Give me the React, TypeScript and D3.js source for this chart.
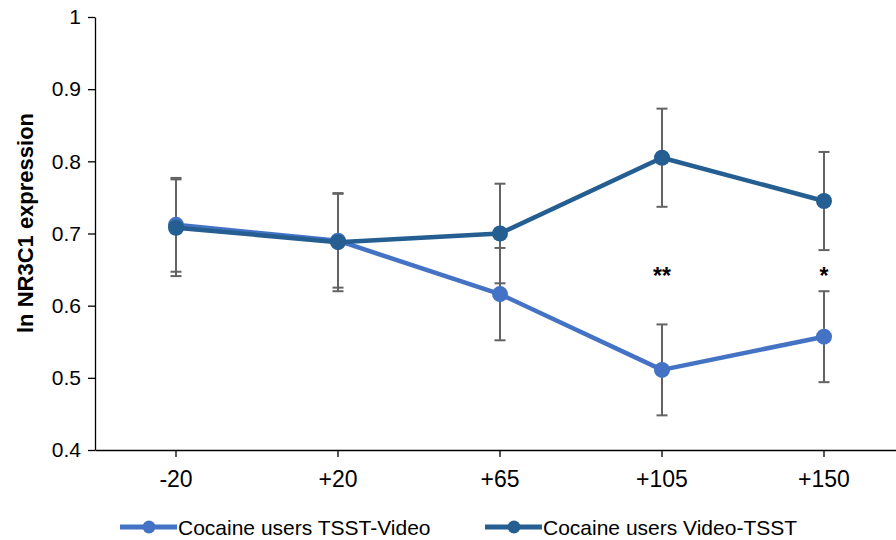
import React, { useEffect, useRef } from 'react';
import { select, scaleLinear, scaleBand, axisLeft, axisBottom, line } from 'd3';

const categories = ['-20', '+20', '+65', '+105', '+150'];
const tsstVideo = [0.712, 0.69, 0.616, 0.511, 0.557];
const tsstVideoErr = [0.065, 0.065, 0.064, 0.063, 0.063];
const videoTsst = [0.708, 0.688, 0.7, 0.805, 0.745];
const videoTsstErr = [0.067, 0.068, 0.069, 0.068, 0.068];
const yTicks = [0.4, 0.5, 0.6, 0.7, 0.8, 0.9, 1];
const stars = ['', '', '', '**', '*'];
const starLevel = 0.63;

const series = [
  { name: 'Cocaine users TSST-Video', values: tsstVideo, err: tsstVideoErr, color: '#4472c4' },
  { name: 'Cocaine users Video-TSST', values: videoTsst, err: videoTsstErr, color: '#255e91' },
];

const dims = { width: 896, height: 540, left: 95, right: 905, top: 17, bottom: 450 };
const font = 'Liberation Sans, Arial, sans-serif';

const App: React.FC = () => {
  const svgRef = useRef<SVGSVGElement | null>(null);

  useEffect(() => {
    const svg = select(svgRef.current);
    svg.selectAll('*').remove();

    const x = scaleBand().domain(categories).range([dims.left, dims.right]);
    const y = scaleLinear().domain([0.4, 1]).range([dims.bottom, dims.top]);
    const cx = (i: number) => x(categories[i])! + x.bandwidth() / 2;

    // axes
    const yAxis = svg.append('g')
      .attr('transform', `translate(${dims.left},0)`)
      .call(axisLeft(y).tickValues(yTicks).tickFormat(d => String(d)).tickSize(7).tickSizeOuter(0).tickPadding(7));
    yAxis.select('.domain').attr('stroke', '#000').attr('stroke-width', 1.3);
    yAxis.selectAll('line').attr('stroke', '#000').attr('stroke-width', 1.3);
    yAxis.selectAll('text').attr('font-family', font).attr('font-size', 21).attr('fill', '#000');

    const xAxis = svg.append('g')
      .attr('transform', `translate(0,${dims.bottom})`)
      .call(axisBottom(x).tickSize(7).tickSizeOuter(0).tickPadding(0));
    xAxis.select('.domain').attr('stroke', '#000').attr('stroke-width', 1.3);
    xAxis.selectAll('line').attr('stroke', '#000').attr('stroke-width', 1.3);
    xAxis.selectAll('text')
      .attr('y', 37)
      .attr('dy', null)
      .attr('font-family', font).attr('font-size', 23).attr('fill', '#000');

    svg.append('text')
      .attr('transform', `translate(33,223) rotate(-90)`)
      .attr('text-anchor', 'middle')
      .attr('font-family', font)
      .attr('font-weight', 'bold')
      .attr('font-size', 22)
      .text('ln NR3C1 expression');

    // error bars
    series.forEach(s => {
      const g = svg.append('g').attr('stroke', '#636363').attr('stroke-width', 2);
      s.values.forEach((v, i) => {
        const hi = y(v + s.err[i]);
        const lo = y(v - s.err[i]);
        g.append('line').attr('x1', cx(i)).attr('x2', cx(i)).attr('y1', hi).attr('y2', lo);
        g.append('line').attr('x1', cx(i) - 5.5).attr('x2', cx(i) + 5.5).attr('y1', hi).attr('y2', hi);
        g.append('line').attr('x1', cx(i) - 5.5).attr('x2', cx(i) + 5.5).attr('y1', lo).attr('y2', lo);
      });
    });

    // lines and markers
    const path = line<number>().x((_, i) => cx(i)).y(d => y(d));
    series.forEach(s => {
      svg.append('path')
        .attr('d', path(s.values)!)
        .attr('fill', 'none')
        .attr('stroke', s.color)
        .attr('stroke-width', 4.5)
        .attr('stroke-linejoin', 'round');
      svg.append('g').selectAll('circle')
        .data(s.values)
        .enter()
        .append('circle')
        .attr('cx', (_, i) => cx(i))
        .attr('cy', d => y(d))
        .attr('r', 8)
        .attr('fill', s.color);
    });

    // significance stars
    svg.append('g').selectAll('text')
      .data(stars)
      .enter()
      .append('text')
      .attr('x', (_, i) => cx(i))
      .attr('y', y(starLevel))
      .attr('text-anchor', 'middle')
      .attr('font-family', font)
      .attr('font-weight', 'bold')
      .attr('font-size', 23)
      .text(d => d);

    // legend
    const leg = svg.append('g');
    const legX = [120, 485];
    series.forEach((s, i) => {
      const lx = legX[i];
      leg.append('line')
        .attr('x1', lx).attr('x2', lx + 57).attr('y1', 527).attr('y2', 527)
        .attr('stroke', s.color).attr('stroke-width', 5);
      leg.append('circle').attr('cx', lx + 29).attr('cy', 527).attr('r', 6.5).attr('fill', s.color);
      leg.append('text')
        .attr('x', lx + 58).attr('y', 535)
        .attr('font-family', font).attr('font-size', 21)
        .text(s.name);
    });
  }, []);

  return (
    <svg
      ref={svgRef}
      width={dims.width}
      height={dims.height}
      style={{ position: 'absolute', left: 0, top: 0, background: '#fff' }}
    />
  );
};

export default App;
